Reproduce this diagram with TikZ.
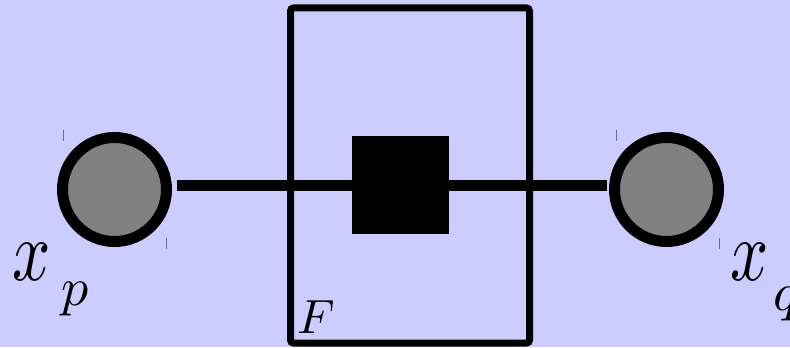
\documentclass[tikz,border=0pt]{standalone}
\usetikzlibrary{positioning}
\definecolor{bgblue}{RGB}{204,204,255}
\definecolor{varfill}{RGB}{128,128,128}
\definecolor{tickgray}{RGB}{110,110,130}

\tikzset{
  varnode/.style={circle,draw=black,fill=varfill,line width=5.5pt,
    inner sep=0pt,minimum size=52pt},
  facnode/.style={rectangle,fill=black,inner sep=0pt,minimum size=48.5pt},
  platebox/.style={rectangle,draw=black,line width=3.5pt,rounded corners=1.5pt,
    inner sep=0pt,minimum width=119.5pt,minimum height=167.5pt},
  edge/.style={line width=5.5pt,shorten <=2.25pt,shorten >=1pt},
  lbl/.style={inner sep=0pt,anchor=base west},
  bigvar/.style={lbl,xscale=3.35,yscale=4.3},
  smallvar/.style={lbl,scale=2.7}
}

\begin{document}
\begin{tikzpicture}[x=0.5pt,y=-0.5pt,line cap=butt]
  \useasboundingbox (0,0) rectangle (790,347);
  \fill[bgblue] (0,0) rectangle (790,347);

  % plate
  \node[platebox] (plate) at (410,175.5) {};
  \node[lbl,scale=2.4] (plabel) at (297,333) {$F$};

  % variables and factor
  \node[varnode] (xp) at (114.5,189.5) {};
  \node[varnode] (xq) at (666.5,189.5) {};
  \node[facnode] (fac) at (400.5,185) {};

  \draw[edge] (xp.east |- fac.west) -- (xq.west |- fac.east);

  % labels
  \node[bigvar] (xplbl) at (11,280) {$x$};
  \node[smallvar] (xpsub) at (60,305) {$p$};
  \node[bigvar] (xqlbl) at (729,280) {$x$};
  \node[smallvar] (xqsub) at (772,310) {$q$};

  % small marks
  \foreach \tx/\ty in {63/130,166/238,616/130,719/238}
    \draw[tickgray,line width=0.5pt] (\tx,\ty) -- (\tx,\ty+11);
\end{tikzpicture}
\end{document}
